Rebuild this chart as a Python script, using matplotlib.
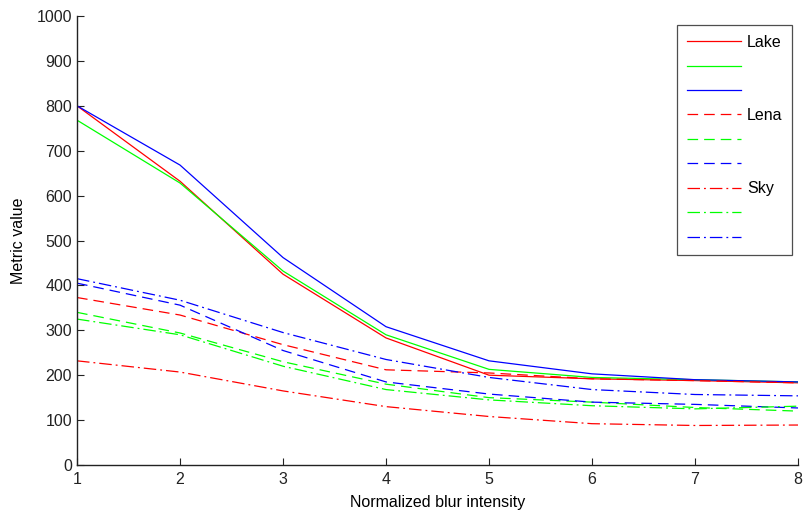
import matplotlib
matplotlib.use("Agg")
import matplotlib.pyplot as plt
from matplotlib.lines import Line2D

plt.rcParams['font.family'] = ['Liberation Sans', 'DejaVu Sans']

blur = [1, 2, 3, 4, 5, 6, 7, 8]

# Lake (solid)
lake_r = [800, 632, 425, 283, 200, 192, 188, 183]
lake_g = [768, 628, 432, 290, 213, 195, 190, 185]
lake_b = [800, 668, 462, 308, 232, 203, 190, 185]
# Lena (dashed)
lena_r = [373, 334, 268, 212, 205, 192, 188, 183]
lena_g = [340, 294, 230, 180, 150, 140, 128, 120]
lena_b = [405, 356, 255, 185, 158, 140, 135, 127]
# Sky (dash-dot)
sky_r = [232, 207, 165, 130, 108, 92, 88, 89]
sky_g = [325, 290, 220, 168, 145, 132, 125, 131]
sky_b = [415, 367, 295, 235, 195, 168, 157, 154]

series = [
    ("Lake", lake_r, 'r', '-'), ("", lake_g, 'g', '-'), ("", lake_b, 'b', '-'),
    ("Lena", lena_r, 'r', '--'), ("", lena_g, 'g', '--'), ("", lena_b, 'b', '--'),
    ("Sky", sky_r, 'r', '-.'), ("", sky_g, 'g', '-.'), ("", sky_b, 'b', '-.'),
]
colors = {'r': (1, 0, 0), 'g': (0, 1, 0), 'b': (0, 0, 1)}
dashes = {'-': None, '--': (8.5, 4.8), '-.': (10, 3.2, 1.5, 3.2)}

fig = plt.figure(figsize=(8.05, 5.17), dpi=100)
ax = fig.add_axes([0.0957, 0.1006, 0.8956, 0.8684])

handles = []
for label, vals, c, ls in series:
    kw = dict(color=colors[c], linewidth=0.9)
    line, = ax.plot(blur, vals, linestyle=ls, **kw)
    if dashes[ls] is not None:
        line.set_dashes(dashes[ls])
    h = Line2D([], [], linestyle=ls, **kw)
    if dashes[ls] is not None:
        h.set_dashes(dashes[ls])
    handles.append((h, label))

ax.set_xlim(1, 8)
ax.set_ylim(0, 1000)
ax.set_xticks(blur)
ax.set_yticks(range(0, 1001, 100))
ax.tick_params(direction='in', length=5, width=0.8, labelsize=11.5, colors='#222222')
ax.tick_params(axis='x', pad=5)
for s in ['top', 'right']:
    ax.spines[s].set_visible(False)
for s in ['left', 'bottom']:
    ax.spines[s].set_linewidth(1.0)
    ax.spines[s].set_color('#222222')

ax.set_xlabel("Normalized blur intensity", fontsize=11.5, labelpad=6)
ax.set_ylabel("Metric value", fontsize=11.5, labelpad=8)

leg = ax.legend([h for h, _ in handles], [l for _, l in handles],
                loc='upper right', bbox_to_anchor=(0.9917, 0.9795),
                fontsize=11.5, frameon=True, fancybox=False,
                handlelength=3.4, handletextpad=0.35, labelspacing=0.59,
                borderpad=0.6, borderaxespad=0.0)
leg.get_frame().set_edgecolor('#222222')
leg.get_frame().set_linewidth(0.9)

fig.savefig("out.png", dpi=100)
